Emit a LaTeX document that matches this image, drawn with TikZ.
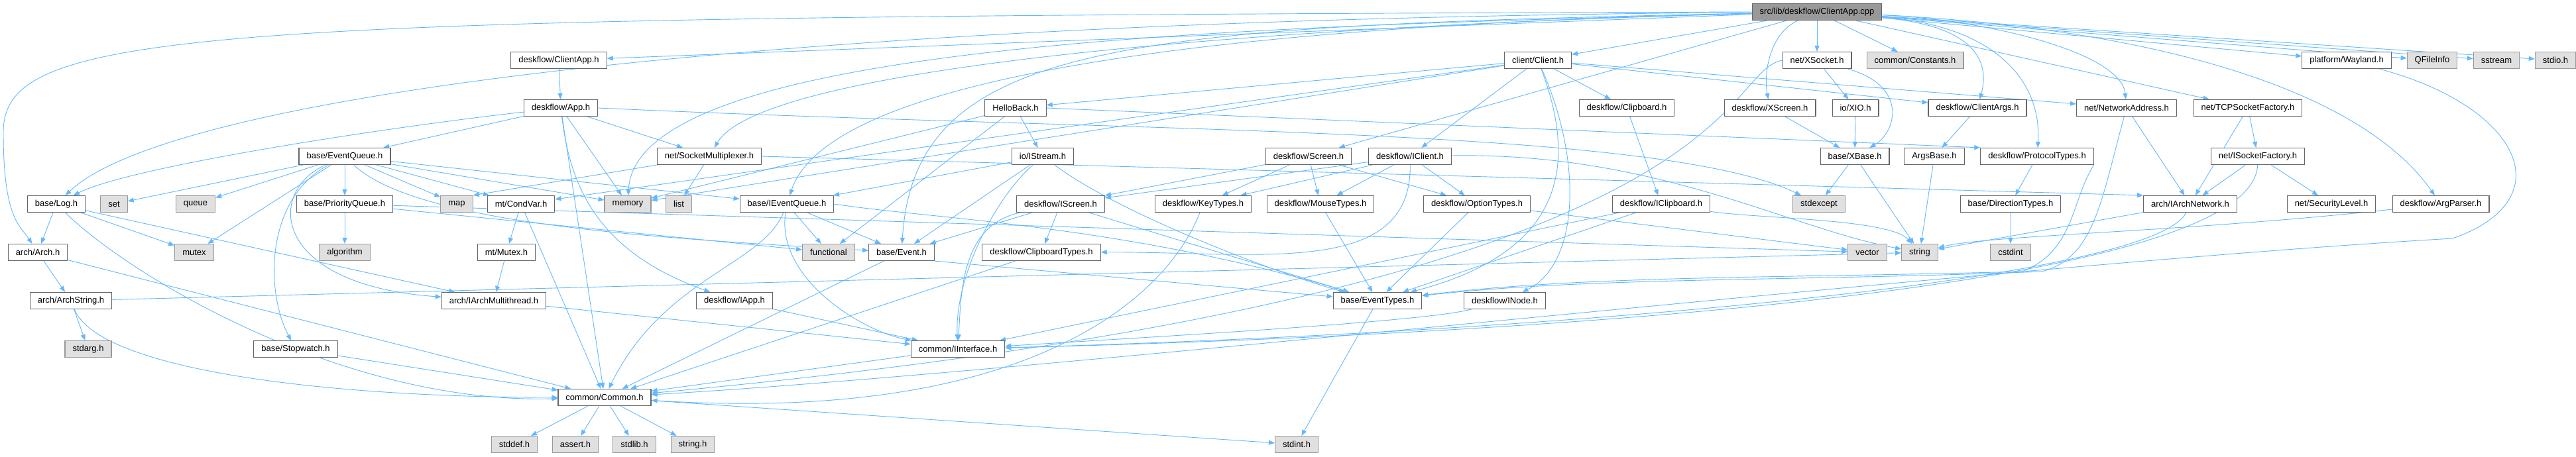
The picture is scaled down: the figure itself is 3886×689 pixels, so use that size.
\documentclass[tikz,border=0pt]{standalone}
\usepackage{fontspec}
\setmainfont{Liberation Sans}
\usepackage{tikz}
\usetikzlibrary{arrows.meta,backgrounds}
\definecolor{edgeblue}{HTML}{63B8FF}
\definecolor{nodeline}{HTML}{666666}
\definecolor{sysline}{HTML}{999999}
\definecolor{sysfill}{HTML}{E0E0E0}
\definecolor{rootfill}{HTML}{999999}
\tikzstyle{hfile}=[rectangle,draw=nodeline,fill=white,line width=1.1pt,minimum height=25pt,inner xsep=11.5pt,inner ysep=0pt,font=\fontsize{13}{15}\selectfont]
\tikzstyle{sysfile}=[hfile,draw=sysline,fill=sysfill]
\tikzstyle{rootfile}=[hfile,fill=rootfill]
\tikzstyle{edge} = [draw,line width=0.9pt,edgeblue,-{Triangle[length=9pt,width=7pt]}]

\begin{document}
\begin{tikzpicture}[x=1pt,y=-1pt]
    \useasboundingbox (0,0) rectangle (3886,689);

    \node[rootfile] (cpp) at (2741,18) {src/lib/deskflow/ClientApp.cpp};

    % project headers
    \foreach \pos/\name/\label in {{(843,91)/clientapph/{deskflow/ClientApp.h}}, {(2320,91)/clienth/{client/Client.h}},
        {(2741,91)/xsocket/{net/XSocket.h}}, {(3540,91)/wayland/{platform/Wayland.h}},
        {(846,163)/apph/{deskflow/App.h}}, {(1532,163)/helloback/{HelloBack.h}}, {(2454,163)/clipboardh/{deskflow/Clipboard.h}},
        {(2670,163)/xscreen/{deskflow/XScreen.h}}, {(2799,163)/xio/{io/XIO.h}}, {(2983,163)/clientargs/{deskflow/ClientArgs.h}},
        {(3208,163)/netaddr/{net/NetworkAddress.h}}, {(3391,163)/tcpsf/{net/TCPSocketFactory.h}},
        {(520,236)/eventqueue/{base/EventQueue.h}}, {(1070,236)/sockmux/{net/SocketMultiplexer.h}}, {(1573,236)/istream/{io/IStream.h}},
        {(1974,236)/screenh/{deskflow/Screen.h}}, {(2127,236)/iclient/{deskflow/IClient.h}}, {(2798,236)/xbase/{base/XBase.h}},
        {(2918,236)/argsbase/{ArgsBase.h}}, {(3073,236)/prototypes/{deskflow/ProtocolTypes.h}}, {(3406,236)/isf/{net/ISocketFactory.h}},
        {(85,308)/log/{base/Log.h}}, {(520,308)/pqueue/{base/PriorityQueue.h}}, {(786,308)/condvar/{mt/CondVar.h}},
        {(1187,308)/ieventqueue/{base/IEventQueue.h}}, {(1600,308)/iscreen/{deskflow/IScreen.h}}, {(1815,308)/keytypes/{deskflow/KeyTypes.h}},
        {(1992,308)/mousetypes/{deskflow/MouseTypes.h}}, {(2228,308)/optiontypes/{deskflow/OptionTypes.h}},
        {(2506,308)/iclipboard/{deskflow/IClipboard.h}}, {(3033,308)/dirtypes/{base/DirectionTypes.h}},
        {(3304,308)/iarchnet/{arch/IArchNetwork.h}}, {(3517,308)/seclevel/{net/SecurityLevel.h}}, {(3682,308)/argparser/{deskflow/ArgParser.h}},
        {(57,381)/arch/{arch/Arch.h}}, {(764,381)/mutexh/{mt/Mutex.h}}, {(1360,381)/event/{base/Event.h}}, {(1571,381)/cliptypes/{deskflow/ClipboardTypes.h}},
        {(107,454)/archstring/{arch/ArchString.h}}, {(745,454)/iarchmt/{arch/IArchMultithread.h}}, {(1108,454)/iapp/{deskflow/IApp.h}},
        {(2078,454)/eventtypes/{base/EventTypes.h}}, {(2270,454)/inode/{deskflow/INode.h}},
        {(446,527)/stopwatch/{base/Stopwatch.h}}, {(1445,527)/iinterface/{common/IInterface.h}},
        {(912,600)/common/{common/Common.h}}}
        \node[hfile] (\name) at \pos {\label};

    % system and library headers
    \foreach \pos/\name/\label in {{(2889,91)/constants/{common/Constants.h}}, {(3669,91)/qfileinfo/QFileInfo}, {(3766,91)/sstream/sstream},
        {(3855,91)/stdioh/stdio.h}, {(172,308)/set/set}, {(295,308)/queue/queue}, {(689,308)/map/map}, {(947,308)/memory/memory},
        {(1024,308)/list/list}, {(2744,308)/stdexcept/stdexcept}, {(293,381)/mutex/mutex}, {(520,381)/algorithm/algorithm},
        {(1250,381)/functional/functional}, {(2817,381)/vector/vector}, {(2896,381)/string/string}, {(3033,381)/cstdint/cstdint},
        {(133,527)/stdarg/stdarg.h}, {(776,671)/stddef/stddef.h}, {(868,671)/assert/assert.h}, {(957,671)/stdlib/stdlib.h},
        {(1045,671)/stringh/string.h}, {(1956,671)/stdint/stdint.h}}
        \node[sysfile] (\name) at \pos {\label};

    \begin{scope}[on background layer]
    % Connect the source file with what it includes
    \foreach \dest in {clientapph, clienth, screenh, xsocket, constants, tcpsf, wayland, qfileinfo, sstream, stdioh}
        \path[edge] (cpp) -- (\dest);

    % Connect headers with edges
    \foreach \source/\dest in {clientapph/apph, apph/eventqueue, apph/common, apph/sockmux, apph/memory,
        eventqueue/set, eventqueue/queue, eventqueue/mutex, eventqueue/pqueue, eventqueue/map,
        eventqueue/condvar, eventqueue/memory, eventqueue/ieventqueue,
        log/arch, log/iarchmt, log/mutex, arch/archstring, arch/common, archstring/stdarg, archstring/string,
        pqueue/algorithm, pqueue/functional, pqueue/vector, stopwatch/common, sockmux/list,
        condvar/mutexh, condvar/common, mutexh/iarchmt, iarchmt/iinterface,
        ieventqueue/event, ieventqueue/functional, event/common, iapp/iinterface, iinterface/common, eventtypes/stdint,
        common/stddef, common/assert, common/stdlib, common/stringh, common/stdint}
        \path[edge] (\source) -- (\dest);

    \foreach \source/\dest in {helloback/memory, helloback/functional, helloback/istream,
        istream/event, istream/ieventqueue, iscreen/event, iscreen/cliptypes, iscreen/eventtypes,
        screenh/iscreen, screenh/keytypes, screenh/mousetypes, screenh/optiontypes,
        iclient/iscreen, iclient/keytypes, iclient/mousetypes, iclient/optiontypes,
        mousetypes/eventtypes, optiontypes/eventtypes, optiontypes/vector, cliptypes/common,
        clipboardh/iclipboard, iclipboard/eventtypes, iclipboard/iinterface,
        clienth/helloback, clienth/iclient, clienth/clipboardh, clienth/condvar,
        clienth/memory, clienth/clientargs, clienth/netaddr}
        \path[edge] (\source) -- (\dest);

    \foreach \source/\dest in {xsocket/xio, xscreen/xbase, xio/xbase, xbase/stdexcept, xbase/string,
        clientargs/argsbase, argsbase/string, prototypes/dirtypes, dirtypes/cstdint,
        netaddr/iarchnet, iarchnet/string, tcpsf/isf, tcpsf/iarchnet, isf/iarchnet, isf/seclevel}
        \path[edge] (\source) -- (\dest);

    % connectors that bend round other boxes
    \path[edge] (cpp.west) .. controls (300,25) and (5,40) .. (5,200) .. controls (5,330) and (30,340) .. (arch);
    \path[edge] (cpp) .. controls (1100,30) and (250,150) .. (log);
    \path[edge] (cpp) .. controls (1900,40) and (960,60) .. (memory);
    \path[edge] (cpp) .. controls (1900,40) and (1150,100) .. (sockmux);
    \path[edge] (cpp) .. controls (1800,40) and (1250,120) .. (ieventqueue);
    \path[edge] (cpp) .. controls (1700,40) and (1380,60) .. (event);
    \path[edge] (cpp) .. controls (2670,50) and (2660,110) .. (xscreen);
    \path[edge] (cpp) .. controls (2990,40) and (3000,100) .. (clientargs);
    \path[edge] (cpp) .. controls (3020,40) and (3080,130) .. (prototypes);
    \path[edge] (cpp) .. controls (3000,30) and (3200,80) .. (netaddr);
    \path[edge] (cpp) .. controls (3200,40) and (3550,120) .. (argparser);
    \path[edge] (apph) .. controls (600,190) and (200,250) .. (log);
    \path[edge] (apph) .. controls (860,280) and (900,380) .. (iapp);
    \path[edge] (apph.east) .. controls (1700,200) and (2500,190) .. (stdexcept);
    \path[edge] (eventqueue) .. controls (400,290) and (410,430) .. (iarchmt);
    \path[edge] (eventqueue) .. controls (400,300) and (400,440) .. (stopwatch);
    \path[edge] (eventqueue) .. controls (630,340) and (1000,360) .. (event);
    \path[edge] (log) .. controls (200,420) and (520,610) .. (common);
    \path[edge] (archstring) .. controls (150,560) and (500,600) .. (common);
    \path[edge] (sockmux.south west) -- (map.north east);
    \path[edge] (sockmux.east) -- (iarchnet.north west);
    \path[edge] (ieventqueue) .. controls (1170,420) and (1300,500) .. (iinterface);
    \path[edge] (ieventqueue.east) .. controls (1400,330) and (1700,340) .. (eventtypes);
    \path[edge] (ieventqueue) .. controls (1150,400) and (1000,420) .. (common);
    \path[edge] (event.south east) -- (eventtypes);
    \path[edge] (inode) .. controls (2150,485) and (1800,505) .. (iinterface);
    \path[edge] (helloback.east) -- (prototypes.north west);
    \path[edge] (istream) .. controls (1500,300) and (1440,420) .. (iinterface);
    \path[edge] (istream) .. controls (1700,330) and (1950,420) .. (eventtypes);
    \path[edge] (iscreen) .. controls (1450,340) and (1450,440) .. (iinterface);
    \path[edge] (iclient) .. controls (2130,420) and (1900,380) .. (cliptypes);
    \path[edge] (iclient) .. controls (2500,230) and (2700,345) .. (string);
    \path[edge] (keytypes) .. controls (1760,450) and (1550,640) .. (common);
    \path[edge] (iclipboard) .. controls (2650,330) and (2850,330) .. (string);
    \path[edge] (clienth) .. controls (2380,250) and (2360,380) .. (eventtypes);
    \path[edge] (clienth) .. controls (2390,250) and (2380,400) .. (inode);
    \path[edge] (xsocket) .. controls (2880,130) and (2860,200) .. (xbase);
    \path[edge] (xsocket.west) .. controls (2590,110) and (2650,440) .. (common);
    \path[edge] (prototypes.south east) .. controls (3125,300) and (3130,380) .. (3050,410) .. controls (2700,420) and (2400,415) .. (eventtypes);
    \path[edge] (netaddr) .. controls (3170,300) and (3160,390) .. (3080,410) .. controls (2700,425) and (2400,418) .. (eventtypes);
    \path[edge] (iarchnet) .. controls (3250,420) and (2400,500) .. (iinterface);
    \path[edge] (isf) .. controls (3400,420) and (2500,500) .. (iinterface);
    \path[edge] (argparser) .. controls (3300,350) and (3000,355) .. (string);
    \path[edge] (wayland) .. controls (3800,160) and (3870,300) .. (3700,360) .. controls (3000,400) and (1600,560) .. (common);
    \end{scope}

\end{tikzpicture}
\end{document}
